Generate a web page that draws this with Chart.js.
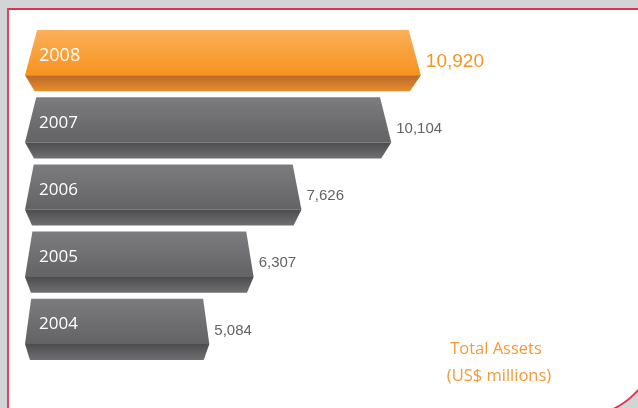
<!DOCTYPE html>
<html>
<head>
<meta charset="utf-8">
<script src="https://cdn.jsdelivr.net/npm/chart.js"></script>
<style>
  html, body { margin: 0; padding: 0; background: #d3d4d6; }
  #wrap { width: 638px; height: 408px; position: relative; }
</style>
</head>
<body>
<div id="wrap"><canvas id="chart" width="638" height="408"></canvas></div>
<script>
  const years = ['2008', '2007', '2006', '2005', '2004'];
  const assets = [10920, 10104, 7626, 6307, 5084];
  const highlight = [true, false, false, false, false];
  const titleLines = ['Total Assets', '(US$ millions)'];

  const canvas = document.getElementById('chart');
  const ctx = canvas.getContext('2d');

  // panel behind the chart: grey page, white card with red edge
  const panelPlugin = {
    id: 'panel',
    beforeDraw(chart) {
      const c = chart.ctx;
      c.save();
      c.fillStyle = '#d3d4d6';
      c.fillRect(0, 0, 638, 408);
      c.beginPath();
      c.moveTo(8, 420);
      c.lineTo(8, 9);
      c.lineTo(650, 9);
      c.lineTo(650, 330);
      c.arc(584, 344, 71, 0, Math.PI / 2);
      c.closePath();
      c.fillStyle = '#ffffff';
      c.fill();
      c.strokeStyle = '#e3304f';
      c.lineWidth = 1.8;
      c.stroke();
      c.restore();
    }
  };

  // each bar drawn as a bevelled block from its element geometry
  const blockPlugin = {
    id: 'blocks',
    afterDatasetsDraw(chart) {
      const c = chart.ctx;
      const meta = chart.getDatasetMeta(0);
      meta.data.forEach((bar, i) => {
        const { x, y, base, height } = bar.getProps(['x', 'y', 'base', 'height'], true);
        const top = y - height / 2, bottom = y + height / 2;
        const edge = top + height * 0.74;
        const len = x - base;
        const ins = 1 + 0.028 * len;
        const hot = highlight[i];

        let g = c.createLinearGradient(0, top, 0, edge);
        g.addColorStop(0, hot ? '#fbb05a' : '#7c7c7e');
        g.addColorStop(1, hot ? '#f7921e' : '#636365');
        c.beginPath();
        c.moveTo(base + ins, top);
        c.lineTo(x - ins, top);
        c.lineTo(x, edge);
        c.lineTo(base, edge);
        c.closePath();
        c.fillStyle = g;
        c.fill();

        g = c.createLinearGradient(0, edge, 0, bottom);
        g.addColorStop(0, hot ? '#b9682a' : '#4d4d4f');
        g.addColorStop(1, hot ? '#e88d2c' : '#6f6f71');
        c.beginPath();
        c.moveTo(base, edge);
        c.lineTo(x, edge);
        c.lineTo(x - ins * 0.9, bottom);
        c.lineTo(base + ins * 0.8, bottom);
        c.closePath();
        c.fillStyle = g;
        c.fill();

        c.save();
        c.textBaseline = 'middle';
        c.fillStyle = '#ffffff';
        c.font = (hot ? '18px' : '17px') + ' "Open Sans", sans-serif';
        c.fillText(years[i], base + 14, (top + edge) / 2 + 3);
        c.fillStyle = hot ? '#f7941e' : '#636363';
        c.font = (hot ? '19px' : '15px') + ' "Liberation Sans", Arial, sans-serif';
        c.fillText(assets[i].toLocaleString('en-US'), x + 5, y + 1);
        c.restore();
      });

      c.save();
      c.fillStyle = '#f59a3a';
      c.font = '16.5px "Open Sans", sans-serif';
      c.textAlign = 'center';
      c.textBaseline = 'alphabetic';
      c.fillText(titleLines[0], 496, 354);
      c.fillText(titleLines[1], 499, 381);
      c.restore();
    }
  };

  new Chart(ctx, {
    type: 'bar',
    data: {
      labels: years,
      datasets: [{
        data: assets,
        backgroundColor: 'rgba(0,0,0,0)',
        borderWidth: 0,
        barPercentage: 0.91,
        categoryPercentage: 1
      }]
    },
    options: {
      indexAxis: 'y',
      responsive: false,
      animation: false,
      layout: { padding: { left: 25, right: 33, top: 27, bottom: 45 } },
      plugins: { legend: { display: false }, tooltip: { enabled: false } },
      scales: {
        x: { display: false, min: 0, max: 16000 },
        y: { display: false }
      }
    },
    plugins: [panelPlugin, blockPlugin]
  });
</script>
</body>
</html>
